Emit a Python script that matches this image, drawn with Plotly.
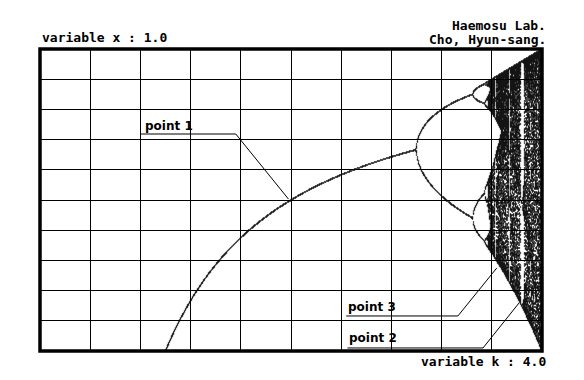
import numpy as np
import plotly.graph_objects as go

# ---- data definition (logistic map x -> k*x*(1-x)) ----
K_RANGE = [0.0, 4.0]          # variable k axis (right label "variable k : 4.0")
X_RANGE = [0.0, 1.0]          # variable x axis (top label "variable x : 1.0")
N_COLUMNS = 502               # pixel columns across the k axis
N_ROWS = 302                  # pixel rows across the x axis
SUBSTEPS = 3                  # k values per column
TRANSIENT = 400               # iterations discarded
SAMPLES = 130                 # iterations plotted per k
X0 = 0.5

# annotation callouts: label, label position (k, x), underline, target (k, x)
LABELS = ["point 1", "point 3", "point 2"]
LABEL_K = [0.82, 2.44, 2.45]
LABEL_X = [0.745, 0.146, 0.043]
LINE_Y = [0.7185, 0.116, 0.010]
LINE_K0 = [0.80, 2.44, 2.45]
LINE_K1 = [1.56, 3.33, 3.53]
TARGET_K = [1.98, 3.64, 3.817]
TARGET_X = [0.503, 0.275, 0.159]

TITLE_LEFT = "variable x : 1.0"
TITLE_RIGHT = ["Haemosu Lab.", "Cho, Hyun-sang."]
AXIS_LABEL = "variable k : 4.0"

# ---- iterate the map ----
span = K_RANGE[1] - K_RANGE[0]
n_k = N_COLUMNS * SUBSTEPS
ks = K_RANGE[0] + (np.arange(n_k) + 0.5) * span / n_k
cols = (np.arange(n_k) // SUBSTEPS)
x = np.full(n_k, X0)
for _ in range(TRANSIENT):
    x = ks * x * (1 - x)
grid = np.zeros((N_COLUMNS, N_ROWS + 1), dtype=bool)
for _ in range(SAMPLES):
    x = ks * x * (1 - x)
    rows = np.clip(np.round(x * N_ROWS).astype(int), 0, N_ROWS)
    grid[cols, rows] = True
ci, ri = np.nonzero(grid)
px = K_RANGE[0] + (ci + 0.5) * span / N_COLUMNS
py = ri / N_ROWS

fig = go.Figure()
fig.add_trace(go.Scatter(
    x=px, y=py, mode="markers",
    marker=dict(symbol="square", size=1.3, color="black", line=dict(width=0)),
    hoverinfo="skip", showlegend=False,
))

# callout lines
for i in range(len(LABELS)):
    fig.add_trace(go.Scatter(
        x=[LINE_K0[i], LINE_K1[i], TARGET_K[i]],
        y=[LINE_Y[i], LINE_Y[i], TARGET_X[i]],
        mode="lines", line=dict(color="black", width=1),
        hoverinfo="skip", showlegend=False, cliponaxis=False,
    ))

annotations = []
for i, lab in enumerate(LABELS):
    annotations.append(dict(
        x=LABEL_K[i], y=LABEL_X[i], xref="x", yref="y", text=lab,
        showarrow=False, xanchor="left", yanchor="middle",
        font=dict(family="DejaVu Sans", size=12, color="black", weight="bold"),
    ))

PW, PH, L, T = 502, 302, 40, 49
mono = dict(family="DejaVu Sans Mono", size=13, color="black", weight="bold")
annotations.append(dict(x=0, y=1 + 11 / PH, xref="paper", yref="paper", text=TITLE_LEFT,
                        showarrow=False, xanchor="left", yanchor="middle", font=mono))
annotations.append(dict(x=(548 - L) / PW, y=1 + 24 / PH, xref="paper", yref="paper",
                        text=TITLE_RIGHT[0], showarrow=False, xanchor="right",
                        yanchor="middle", font=mono))
annotations.append(dict(x=(548 - L) / PW, y=1 + 10 / PH, xref="paper", yref="paper",
                        text=TITLE_RIGHT[1], showarrow=False, xanchor="right",
                        yanchor="middle", font=mono))
annotations.append(dict(x=(548 - L) / PW, y=-10 / PH, xref="paper", yref="paper",
                        text=AXIS_LABEL, showarrow=False, xanchor="right",
                        yanchor="middle", font=mono))

fig.update_layout(
    width=584, height=380,
    margin=dict(l=40, r=42, t=49, b=29),
    paper_bgcolor="white", plot_bgcolor="white",
    annotations=annotations,
    shapes=[dict(type="rect", xref="paper", yref="paper", x0=0, y0=0, x1=1, y1=1,
                 line=dict(color="black", width=3.5), layer="above")],
    xaxis=dict(range=K_RANGE, dtick=0.4, tick0=0, showticklabels=False, ticks="",
               showgrid=True, gridcolor="black", gridwidth=1, zeroline=False,
               showline=False, fixedrange=True),
    yaxis=dict(range=X_RANGE, dtick=0.1, tick0=0, showticklabels=False, ticks="",
               showgrid=True, gridcolor="black", gridwidth=1, zeroline=False,
               showline=False, fixedrange=True),
)

fig.write_html("out.html")
